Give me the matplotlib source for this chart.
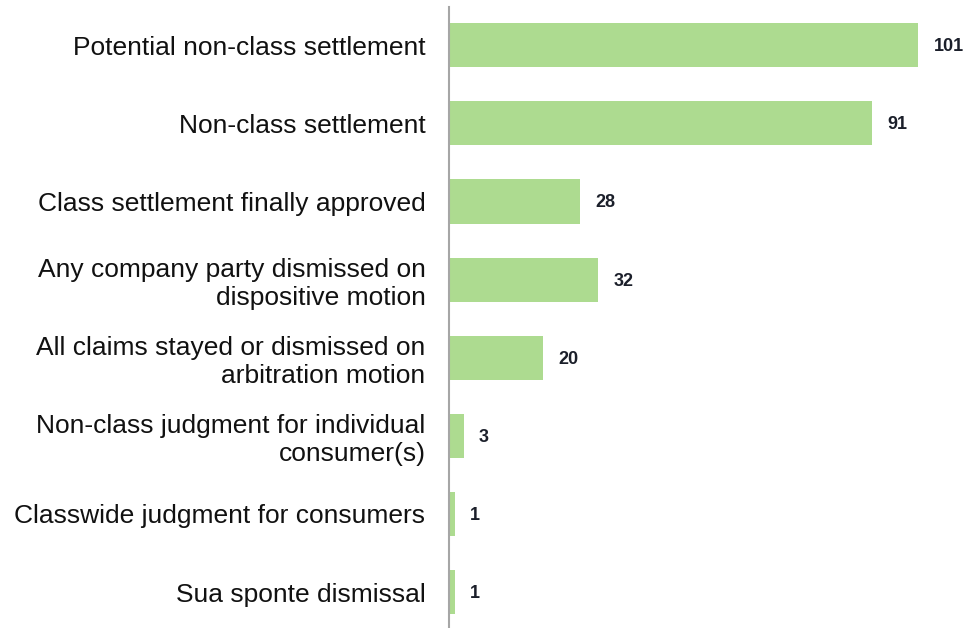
import matplotlib
matplotlib.use('Agg')
import matplotlib.pyplot as plt
import numpy as np

plt.rcParams['font.family'] = ['Liberation Sans', 'DejaVu Sans']

# === 資料 ===
categories = [
    "Potential non-class settlement",
    "Non-class settlement",
    "Class settlement finally approved",
    "Any company party dismissed on\ndispositive motion",
    "All claims stayed or dismissed on\narbitration motion",
    "Non-class judgment for individual\nconsumer(s)",
    "Classwide judgment for consumers",
    "Sua sponte dismissal",
]
counts = [101, 91, 28, 32, 20, 3, 1, 1]

BAR_COLOR = "#addb90"
AXIS_COLOR = "#a6a6a6"
VALUE_COLOR = "#1b1f2a"

fig = plt.figure(figsize=(9.66, 6.28), dpi=100)
ax = fig.add_axes([449 / 966, 0, 1 - 449 / 966, 1 - 7 / 628])

y = np.arange(len(categories))
ax.barh(y, counts, height=0.565, color=BAR_COLOR, left=0.2)

for yi, v in zip(y, counts):
    ax.annotate(str(v), xy=(v + 0.2, yi), xytext=(11, -1), textcoords="offset points",
                ha="left", va="center", fontsize=13, fontweight="bold", color=VALUE_COLOR)

ax.set_yticks(y)
ax.set_yticklabels(categories, fontsize=19, color="#111111", linespacing=1.2)
ax.tick_params(axis="y", length=0, pad=17)
ax.set_xticks([])

ax.set_xlim(0, 111.5)
ax.set_ylim(7.46, -0.49)

for side in ["top", "right", "bottom"]:
    ax.spines[side].set_visible(False)
ax.spines["left"].set_color(AXIS_COLOR)
ax.spines["left"].set_linewidth(1.5)

fig.savefig("out.png", dpi=100)
